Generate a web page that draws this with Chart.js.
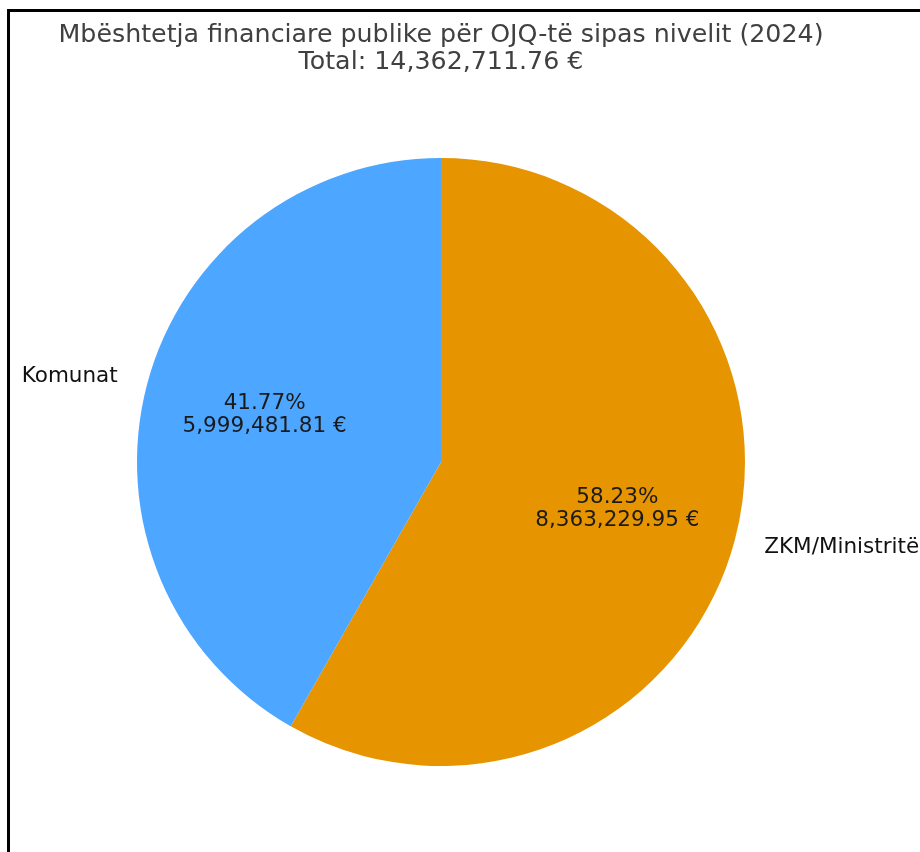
<!DOCTYPE html>
<html>
<head>
<meta charset="utf-8">
<script src="https://cdn.jsdelivr.net/npm/chart.js@4/dist/chart.umd.min.js"></script>
<style>
  html, body { margin: 0; padding: 0; background: #ffffff; }
  #wrap { position: relative; width: 920px; height: 852px; overflow: hidden; }
  #frame { position: absolute; left: 7px; top: 9px; width: 960px; height: 900px;
           border-left: 3px solid #000; border-top: 3px solid #000; box-sizing: border-box; pointer-events: none; }
  canvas { position: absolute; left: 0; top: 0; }
</style>
</head>
<body>
<div id="wrap">
  <canvas id="c" width="920" height="852"></canvas>
  <div id="frame"></div>
</div>
<script>
const titleLines = ["Mbështetja financiare publike për OJQ-të sipas nivelit (2024)", "Total: 14,362,711.76 €"];
const categories = ["ZKM/Ministritë", "Komunat"];
const amounts = [8363229.95, 5999481.81];
const percentLabels = ["58.23%", "41.77%"];
const amountLabels = ["8,363,229.95 €", "5,999,481.81 €"];
const colors = ["#e69500", "#4da6ff"];

const FONT = "'DejaVu Sans', sans-serif";

const titlePlugin = {
  id: 'twoLineTitle',
  afterDraw(chart) {
    const ctx = chart.ctx;
    const area = chart.chartArea;
    const cx = (area.left + area.right) / 2;
    ctx.save();
    ctx.font = "25.3px " + FONT;
    ctx.fillStyle = "#404040";
    ctx.textAlign = "center";
    ctx.textBaseline = "middle";
    titleLines.forEach((t, i) => ctx.fillText(t, cx, 35 + i * 27.5));
    ctx.restore();
  }
};

const labelPlugin = {
  id: 'pieLabels',
  afterDatasetsDraw(chart) {
    const ctx = chart.ctx;
    const meta = chart.getDatasetMeta(0);
    ctx.save();
    meta.data.forEach((arc, i) => {
      const p = arc.getProps(['x', 'y', 'startAngle', 'endAngle', 'outerRadius'], true);
      const mid = (p.startAngle + p.endAngle) / 2;
      const cx = Math.cos(mid), sy = Math.sin(mid);
      const ix = p.x + cx * p.outerRadius * 0.6;
      const iy = p.y + sy * p.outerRadius * 0.6;
      ctx.font = "21.5px " + FONT;
      ctx.fillStyle = "#1a1a1a";
      ctx.textAlign = "center";
      ctx.textBaseline = "middle";
      ctx.fillText(percentLabels[i], ix, iy - 11.5);
      ctx.fillText(amountLabels[i], ix, iy + 11.5);
      const ox = p.x + cx * p.outerRadius * 1.1;
      const oy = p.y + sy * p.outerRadius * 1.1;
      ctx.textAlign = cx >= 0 ? "left" : "right";
      ctx.fillStyle = "#111";
      ctx.fillText(categories[i], ox, oy);
    });
    ctx.restore();
  }
};

new Chart(document.getElementById('c'), {
  type: 'pie',
  data: {
    labels: categories,
    datasets: [{
      data: amounts,
      backgroundColor: colors,
      borderWidth: 0,
      hoverOffset: 0
    }]
  },
  options: {
    responsive: false,
    animation: false,
    events: [],
    layout: { padding: { left: 137, right: 175, top: 158, bottom: 86 } },
    plugins: {
      legend: { display: false },
      tooltip: { enabled: false },
      title: { display: false }
    }
  },
  plugins: [labelPlugin, titlePlugin]
});
</script>
</body>
</html>
